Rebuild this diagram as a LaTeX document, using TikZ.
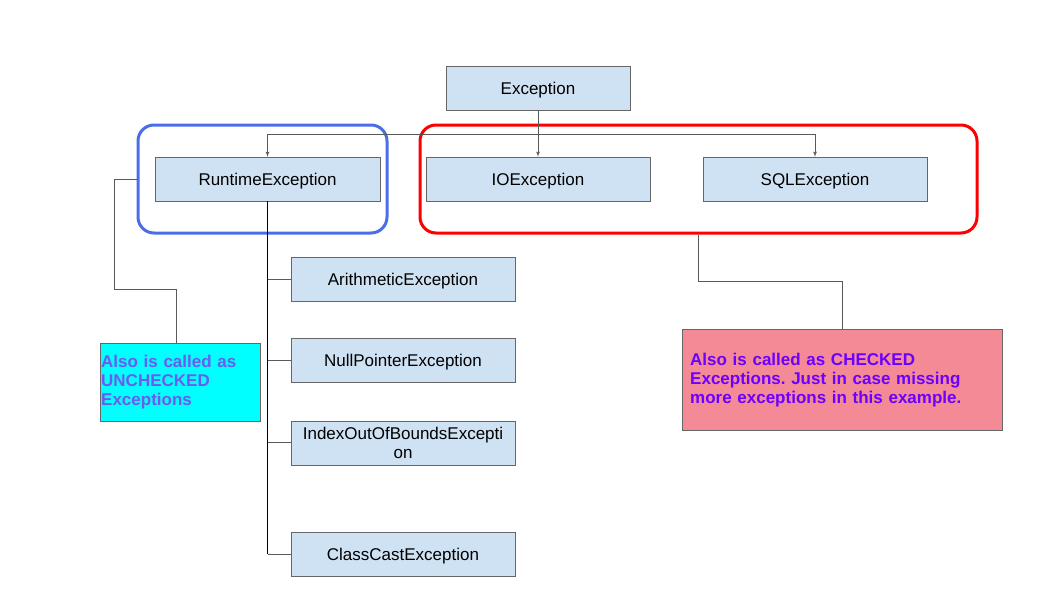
\documentclass[tikz,border=0pt]{standalone}
\usepackage{fontspec}
\setmainfont{Liberation Sans}
\usepackage{xcolor}
\usepackage{tikz}
\usetikzlibrary{shapes.geometric, arrows, positioning}
\frenchspacing

\definecolor{boxblue}{HTML}{CFE2F3}
\definecolor{boxedge}{HTML}{666666}
\definecolor{linegray}{HTML}{595959}
\definecolor{grpblue}{HTML}{4A6EE8}
\definecolor{grpred}{HTML}{FF0000}
\definecolor{notecyan}{HTML}{00FFFF}
\definecolor{notecyantext}{HTML}{6B5CF0}
\definecolor{notepink}{HTML}{F48A96}
\definecolor{notepurple}{HTML}{6A00FF}

\begin{document}
\begin{tikzpicture}[x=1pt, y=-1pt, node distance=37pt, font=\fontsize{17}{19}\selectfont]
        \tikzstyle{cls} = [rectangle, draw=boxedge, fill=boxblue, minimum width=224pt, minimum height=44pt, inner sep=2pt, text depth=0pt, align=center]
        \tikzstyle{line} = [draw=linegray, -latex', line width=0.8pt]
        \tikzstyle{branch} = [draw=linegray, line width=0.8pt]
        \tikzstyle{trunk} = [draw=black, line width=1.4pt]
        \tikzstyle{group} = [rectangle, rounded corners=16pt, line width=3pt, inner sep=0pt, minimum height=108pt]
        \tikzstyle{note} = [rectangle, draw=boxedge, font=\bfseries\fontsize{17}{19}\selectfont, align=left, anchor=north west]

        \useasboundingbox (0,0) rectangle (1057,592);

        \node [cls, minimum width=184pt] (exception) at (538,88) {Exception};
        \node [cls, minimum width=225pt] (runtime) at (267.5,179) {RuntimeException};
        \node [cls] (ioexc) at (538,179) {IOException};
        \node [cls] (sqlexc) at (815,179) {SQLException};

        \node [cls] (arith) at (403,279) {ArithmeticException};
        \node [cls, below=of arith] (nullptr) {NullPointerException};
        \node [cls, below=38pt of nullptr] (outofbounds) {IndexOutOfBoundsExcepti\\on};
        \node [cls, below=67pt of outofbounds] (classcast) {ClassCastException};

        \node [group, draw=grpblue, minimum width=249pt] (uncheckedgrp) at (262.5,179) {};
        \node [group, draw=grpred, minimum width=557pt] (checkedgrp) at (698.5,179) {};

        \node [note, fill=notecyan, text=notecyantext, text width=158pt, inner sep=1pt, minimum height=78pt] (uncheckednote) at (100,343) {Also is called as\\UNCHECKED\\Exceptions};
        \node [note, fill=notepink, text=notepurple, text width=304pt, inner xsep=8pt, inner ysep=2pt, minimum height=101pt] (checkednote) at (682,329) {Also is called as CHECKED\\Exceptions. Just in case missing\\more exceptions in this example.};

        \coordinate (split) at (538,134);
        \path [line] (exception) -- (ioexc);
        \path [line] (split) -| (runtime);
        \path [line] (split) -| (sqlexc);

        \path [trunk] (runtime.south) -- (runtime.south |- classcast.west);
        \foreach \sub in {arith, nullptr, outofbounds, classcast}
            \path [branch] (runtime.south |- \sub.west) -- (\sub.west);

        \coordinate (ubend) at (176,289);
        \coordinate (cbend) at (842,281);
        \path [branch] (uncheckedgrp.west) -- ++(-22,0) |- (ubend) -- (ubend |- uncheckednote.north);
        \path [branch] (checkedgrp.south) |- (cbend) -- (cbend |- checkednote.north);
    \end{tikzpicture}
\end{document}
